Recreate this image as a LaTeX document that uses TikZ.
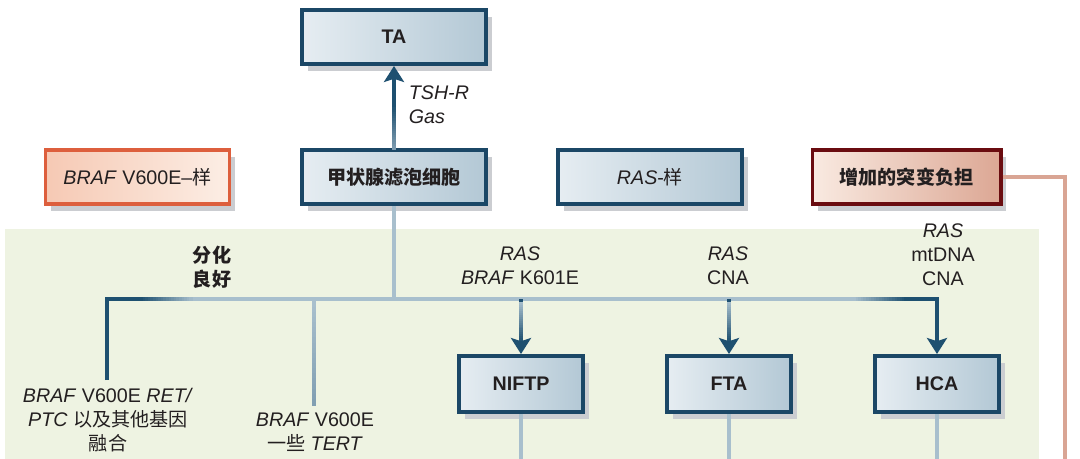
\documentclass[tikz,border=0pt]{standalone}
\usepackage{fontspec}
\setmainfont{Liberation Sans}
\newfontfamily\cjk[Scale=0.97]{Noto Sans CJK SC}
\newcommand{\zh}[1]{{\cjk #1}}
\usetikzlibrary{arrows.meta,shadows,calc}

\definecolor{ink}{HTML}{231F20}
\definecolor{boxnavy}{HTML}{1B4766}
\definecolor{bluel}{HTML}{E6EDF2}
\definecolor{bluer}{HTML}{B3C8D5}
\definecolor{orangeline}{HTML}{DD5F3D}
\definecolor{orangel}{HTML}{F6C9B4}
\definecolor{oranger}{HTML}{FCEEE5}
\definecolor{burdenline}{HTML}{6A0C10}
\definecolor{burdenl}{HTML}{F9EAE1}
\definecolor{burdenr}{HTML}{DCA794}
\definecolor{salmon}{HTML}{D9A594}
\definecolor{panel}{HTML}{EEF3E2}
\definecolor{shadowgray}{HTML}{CBCDD1}
\definecolor{linkdark}{HTML}{1E5070}
\definecolor{linkmid}{HTML}{7F9DB1}
\definecolor{linklight}{HTML}{A8BFCD}

% colour fade along a straight piece: x1,y1,x2,y2, start colour, end colour
\newcommand{\fadelink}[6]{%
  \foreach \i in {0,...,19}{
    \pgfmathsetmacro\xa{#1+(#3-#1)*\i/20}
    \pgfmathsetmacro\ya{#2+(#4-#2)*\i/20}
    \pgfmathsetmacro\xb{#1+(#3-#1)*(\i+1.3)/20}
    \pgfmathsetmacro\yb{#2+(#4-#2)*(\i+1.3)/20}
    \pgfmathtruncatemacro\mix{100-5*\i}
    \draw[line width=3.5pt, draw=#5!\mix!#6] (\xa,\ya) -- (\xb,\yb);
  }}

\tikzset{
  box/.style={draw=boxnavy, line width=2.8pt, left color=bluel, right color=bluer,
    minimum width=4.6cm, minimum height=1.35cm, font=\bfseries, text=ink,
    drop shadow={shadow xshift=0.14cm, shadow yshift=-0.18cm, fill=shadowgray, opacity=1}},
  smallbox/.style={box, minimum width=3.1cm, minimum height=1.4cm},
  braflike/.style={box, draw=orangeline, left color=orangel, right color=oranger, font=\mdseries},
  burdenbox/.style={box, draw=burdenline, left color=burdenl, right color=burdenr, minimum width=4.7cm},
  link/.style={draw=linklight, line width=3.5pt},
  linkarrow/.style={link, draw=linkdark, -{Stealth[length=0.4cm, width=0.5cm, inset=0.08cm]}},
  lbl/.style={align=center, text=ink}
}

\begin{document}
\fontsize{14}{17}\selectfont
\begin{tikzpicture}[x=0.025cm, y=-0.025cm]
\clip (0,0) rectangle (1080,459);
% green panel behind the lower part
\fill[panel] (5,229) rectangle (1039,470);

% boxes
\node[box] (ta) at (394,37) {TA};
\node[box] (cell) at (394,177) {\zh{甲状腺滤泡细胞}};
\node[braflike] (brafl) at (137.5,177) {\textit{BRAF} V600E–\zh{样}};
\node[box, font=\mdseries] (rasl) at (650,177) {\textit{RAS}-\zh{样}};
\node[burdenbox] (burden) at (906.5,177) {\zh{增加的突变负担}};
\node[smallbox] (niftp) at (521,384) {NIFTP};
\node[smallbox] (fta) at (729,384) {FTA};
\node[smallbox] (hca) at (937,384) {HCA};

% bends of the tree
\coordinate (hub) at (394,299);
\coordinate (lbend) at (107,299);
\coordinate (mbend) at (314,299);
\coordinate (rbend) at (937,299);
\coordinate (lfoot) at (107,380);
\coordinate (mfoot) at (314,404);
\coordinate (bfoot) at (1065,470);

% TA arrow
\draw[linkarrow] (cell) -- (ta);
\fadelink{394}{150}{394}{108}{linkmid}{linkdark}

% tree
\draw[link] (cell) -- (hub);
\draw[link] (lbend) -- (rbend);
\draw[link, draw=linkdark] (lfoot) -- ($(lbend)+(0,-2.5)$);
\draw[link, draw=linkdark] ($(lbend)+(-1.75,0)$) -- (142,299);
\fadelink{140}{299}{192}{299}{linkdark}{linklight}
\draw[link] (mbend) -- (mfoot);
\fadelink{314}{301.5}{314}{404}{linklight}{linkmid}
\draw[linkarrow] (niftp |- hub) -- (niftp);
\fadelink{521}{301.5}{521}{340}{linklight}{linkdark}
\draw[linkarrow] (fta |- hub) -- (fta);
\fadelink{729}{301.5}{729}{340}{linklight}{linkdark}
\fadelink{853}{299}{905}{299}{linklight}{linkdark}
\draw[link, draw=linkdark] (904,299) -- (rbend);
\draw[linkarrow] ($(rbend)+(0,-1.75)$) -- (hca);

% lines leaving the bottom
\draw[link] (niftp) -- (niftp.south |- bfoot);
\draw[link] (fta) -- (fta.south |- bfoot);
\draw[link] (hca) -- (hca.south |- bfoot);
\draw[salmon, line width=3.2pt] (burden) -| (bfoot);

% labels
\node[lbl, align=left, anchor=west] (tshr) at (402,105) {\textit{TSH-R}\\\textit{Gas}};
\node[lbl, font=\bfseries] (welldiff) at (212,267) {\zh{分化}\\\zh{良好}};
\node[lbl] (lblniftp) at (520,266) {\textit{RAS}\\\textit{BRAF} K601E};
\node[lbl] (lblfta) at (728,266) {\textit{RAS}\\CNA};
\node[lbl] (lblhca) at (943,255) {\textit{RAS}\\mtDNA\\CNA};
\node[lbl] (lblleft) at (108,420) {\textit{BRAF} V600E \textit{RET/}\\\textit{PTC} \zh{以及其他基因}\\\zh{融合}};
\node[lbl] (lblmid) at (315,432) {\textit{BRAF} V600E\\\zh{一些} \textit{TERT}};
\end{tikzpicture}
\end{document}
